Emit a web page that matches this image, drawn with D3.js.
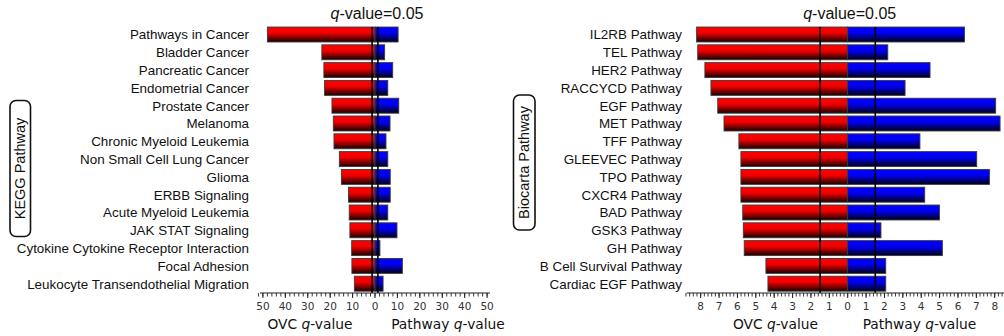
<!DOCTYPE html>
<html><head><meta charset="utf-8">
<script src="https://cdn.jsdelivr.net/npm/d3@7"></script>
<style>body{margin:0;background:#fff}svg{display:block}</style>
</head><body>
<svg id="c" width="1004" height="336"></svg>
<script>
// KEGG panel
const keggCategories = ["Pathways in Cancer","Bladder Cancer","Pancreatic Cancer","Endometrial Cancer","Prostate Cancer","Melanoma","Chronic Myeloid Leukemia","Non Small Cell Lung Cancer","Glioma","ERBB Signaling","Acute Myeloid Leukemia","JAK STAT Signaling","Cytokine Cytokine Receptor Interaction","Focal Adhesion","Leukocyte Transendothelial Migration"];
const keggOVC = [48, 23.7, 22.8, 22.5, 19.2, 18.6, 18.3, 15.9, 15.0, 11.8, 11.5, 11.2, 10.4, 10.3, 9.2];
const keggPathway = [10.3, 4.3, 7.9, 5.7, 10.6, 6.7, 4.9, 5.7, 6.8, 6.8, 5.7, 9.8, 2.2, 12.2, 3.6];
const keggTickLabels = [50, 40, 30, 20, 10, 0, 10, 20, 30, 40, 50];
// Biocarta panel
const bioCategories = ["IL2RB Pathway","TEL Pathway","HER2 Pathway","RACCYCD Pathway","EGF Pathway","MET Pathway","TFF Pathway","GLEEVEC Pathway","TPO Pathway","CXCR4 Pathway","BAD Pathway","GSK3 Pathway","GH Pathway","B Cell Survival Pathway","Cardiac EGF Pathway"];
const bioOVC = [8.22, 8.16, 7.77, 7.44, 7.07, 6.73, 5.92, 5.81, 5.81, 5.81, 5.71, 5.68, 5.63, 4.45, 4.34];
const bioPathway = [6.35, 2.18, 4.48, 3.12, 8.05, 8.29, 3.93, 7.02, 7.71, 4.19, 4.99, 1.81, 5.15, 2.07, 2.07];
const bioTickLabels = [8, 7, 6, 5, 4, 3, 2, 1, 0, 1, 2, 3, 4, 5, 6, 7, 8];
const keggThreshold = 1.3;
const bioThreshold = 1.5;

const svg = d3.select("#c");
const defs = svg.append("defs");
function grad(id, top, mid, bot) {
  const g = defs.append("linearGradient").attr("id", id).attr("x1",0).attr("y1",0).attr("x2",0).attr("y2",1);
  g.append("stop").attr("offset","0").attr("stop-color",top);
  g.append("stop").attr("offset","0.4").attr("stop-color",mid);
  g.append("stop").attr("offset","1").attr("stop-color",bot);
}
grad("gRed", "#ff0000", "#f00000", "#160000");
grad("gBlue", "#0000ff", "#0000f0", "#000016");

function panel(opt) {
  const g = svg.append("g");
  const x = d3.scaleLinear().domain([-opt.max, opt.max]).range([opt.x0, opt.x1]);
  const y = d3.scaleBand().domain(opt.cats).range([25.6, 292.6]).paddingInner(0.16).paddingOuter(0.08);
  const axisY = 293;

  // category labels
  g.selectAll("text.cat").data(opt.cats).join("text")
    .attr("x", opt.labelX).attr("y", d => y(d) + y.bandwidth()/2)
    .attr("dy", "0.36em").attr("text-anchor", "end")
    .style("font-family", "Liberation Sans, Arial, sans-serif").style("font-size", "13.4px").attr("fill", "#111")
    .text(d => d);

  // bars
  g.selectAll("rect.ovc").data(opt.ovc).join("rect")
    .attr("x", d => x(-d)).attr("width", d => x(0) - x(-d))
    .attr("y", (d,i) => y(opt.cats[i])).attr("height", y.bandwidth())
    .attr("fill", "url(#gRed)").attr("stroke", "#3a3a3a").attr("stroke-width", 0.9);
  g.selectAll("rect.pw").data(opt.pw).join("rect")
    .attr("x", x(0)).attr("width", d => x(d) - x(0))
    .attr("y", (d,i) => y(opt.cats[i])).attr("height", y.bandwidth())
    .attr("fill", "url(#gBlue)").attr("stroke", "#3a3a3a").attr("stroke-width", 0.9);

  // threshold lines
  const top = y(opt.cats[0]);
  [-opt.thr, opt.thr].forEach(v => {
    g.append("line").attr("x1", x(v)).attr("x2", x(v)).attr("y1", top).attr("y2", axisY)
      .attr("stroke", "#000").attr("stroke-width", 1.6);
  });

  // axis
  g.append("line").attr("x1", x(-opt.max)).attr("x2", x(opt.max)).attr("y1", axisY).attr("y2", axisY)
    .attr("stroke", "#222").attr("stroke-width", 1.2);
  const minor = d3.range(-opt.max, opt.max + 1e-9, opt.minor).map(v => Math.round(v/opt.minor)*opt.minor);
  g.selectAll("line.mt").data(minor).join("line")
    .attr("x1", d => x(d)).attr("x2", d => x(d)).attr("y1", axisY).attr("y2", axisY + 3.5)
    .attr("stroke", "#222").attr("stroke-width", 0.9);
  const majorVals = opt.ticks.map((t, i) => (i < (opt.ticks.length - 1) / 2 ? -t : t));
  g.selectAll("line.Mt").data(majorVals).join("line")
    .attr("x1", d => x(d)).attr("x2", d => x(d)).attr("y1", axisY).attr("y2", axisY + 5)
    .attr("stroke", "#222").attr("stroke-width", 1);
  g.selectAll("text.tl").data(majorVals).join("text")
    .attr("x", d => x(d)).attr("y", 309.5).attr("text-anchor", "middle")
    .style("font-family", "DejaVu Sans, Verdana, sans-serif").style("font-size", "10.5px").attr("fill", "#333")
    .text((d, i) => opt.ticks[i]);

  // titles
  const t = g.append("text").attr("x", x(0) + 2).attr("y", 19).attr("text-anchor", "middle")
    .style("font-family", "Liberation Sans, Arial, sans-serif").style("font-size", "16px").attr("fill", "#111");
  t.append("tspan").style("font-style", "italic").text("q");
  t.append("tspan").text("-value=0.05");

  function axisTitle(cx, words) {
    const a = g.append("text").attr("x", cx).attr("y", 329).attr("text-anchor", "middle")
      .style("font-family", "DejaVu Sans, Verdana, sans-serif").style("font-size", "13.8px").attr("fill", "#111");
    a.append("tspan").text(words + " ");
    a.append("tspan").style("font-style", "italic").text("q");
    a.append("tspan").text("-value");
  }
  axisTitle(opt.ovcTitleX, "OVC");
  axisTitle(opt.pwTitleX, "Pathway");

  // rotated boxed label
  const b = opt.box;
  g.append("rect").attr("x", b.x).attr("y", b.y).attr("width", b.w).attr("height", b.h)
    .attr("rx", 6).attr("ry", 6).attr("fill", "none").attr("stroke", "#111").attr("stroke-width", 1.6);
  g.append("text").attr("transform", `translate(${b.x + b.w/2 + 5},${b.y + b.h/2}) rotate(-90)`)
    .attr("text-anchor", "middle")
    .style("font-family", "Liberation Sans, Arial, sans-serif").style("font-size", "14.5px").attr("fill", "#111")
    .text(b.text);
}

panel({cats: keggCategories, ovc: keggOVC, pw: keggPathway, ticks: keggTickLabels,
  max: 51.3, minor: 2, x0: 260, x1: 490, thr: keggThreshold, labelX: 249,
  ovcTitleX: 310, pwTitleX: 448,
  box: {x: 10, y: 100.5, w: 20.5, h: 136, text: "KEGG Pathway"}});

panel({cats: bioCategories, ovc: bioOVC, pw: bioPathway, ticks: bioTickLabels,
  max: 8.76, minor: 0.2, x0: 686.7, x1: 1008.7, thr: bioThreshold, labelX: 682,
  ovcTitleX: 775.5, pwTitleX: 919.5,
  box: {x: 513.5, y: 95, w: 21.5, h: 135, text: "Biocarta Pathway"}});
</script>
</body></html>
